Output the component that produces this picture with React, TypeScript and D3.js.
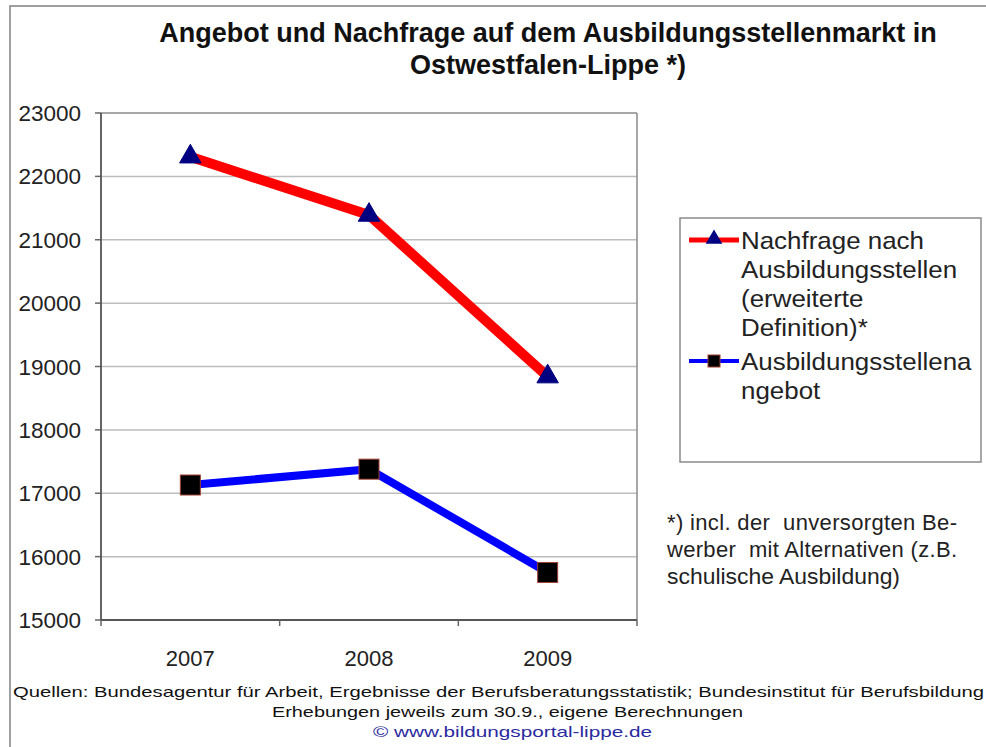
import React from "react";
import * as d3 from "d3";

const W = 986;
const H = 747;

const years = ["2007", "2008", "2009"];
const nachfrage = [22310, 21390, 18840];
const angebot = [17130, 17380, 15750];
const yTicks = [15000, 16000, 17000, 18000, 19000, 20000, 21000, 22000, 23000];

const titleLines = [
  "Angebot und Nachfrage auf dem Ausbildungsstellenmarkt in",
  "Ostwestfalen-Lippe *)",
];
const legendNachfrage = ["Nachfrage nach", "Ausbildungsstellen", "(erweiterte", "Definition)*"];
const legendAngebot = ["Ausbildungsstellena", "ngebot"];
const noteLines = [
  "*) incl. der  unversorgten Be-",
  "werber  mit Alternativen (z.B.",
  "schulische Ausbildung)",
];
const footerLines = [
  "Quellen: Bundesagentur für Arbeit, Ergebnisse der Berufsberatungsstatistik; Bundesinstitut für Berufsbildung",
  "Erhebungen jeweils zum 30.9., eigene Berechnungen",
  "© www.bildungsportal-lippe.de",
];

const FONT = "Liberation Sans, Arial, sans-serif";

const plot = { left: 101, right: 637, top: 113, bottom: 620 };

const App = () => {
  const x = d3
    .scaleBand<string>()
    .domain(years)
    .range([plot.left, plot.right]);
  const y = d3.scaleLinear().domain([15000, 23000]).range([plot.bottom, plot.top]);
  const cx = (i: number) => (x(years[i]) as number) + x.bandwidth() / 2;

  const line = d3
    .line<number>()
    .x((_, i) => cx(i))
    .y((d) => y(d));

  const tri = d3.symbol().type(d3.symbolTriangle).size(200)();
  const legendTri = d3.symbol().type(d3.symbolTriangle).size(120)();

  const bandEdges = years.map((yr) => x(yr) as number).concat([plot.right]);

  return (
    <svg width={W} height={H} style={{ position: "absolute", left: 0, top: 0 }}>
      <rect x={0} y={0} width={W} height={H} fill="#fff" />
      {/* outer frame */}
      <rect x={10} y={6} width={W + 20} height={H + 20} fill="none" stroke="#808080" strokeWidth={1.5} />

      {/* title */}
      {titleLines.map((t, i) => (
        <text
          key={t}
          x={548}
          y={42 + i * 32}
          textAnchor="middle"
          fontFamily={FONT}
          fontWeight="bold"
          fontSize={27}
          fill="#111"
        >
          {t}
        </text>
      ))}

      {/* grid */}
      {yTicks.map((t) => (
        <g key={t}>
          <line
            x1={plot.left}
            x2={plot.right}
            y1={y(t)}
            y2={y(t)}
            stroke={t === 23000 ? "#8a8a8a" : "#bdbdbd"}
            strokeWidth={1.5}
          />
          <line x1={plot.left - 6} x2={plot.left} y1={y(t)} y2={y(t)} stroke="#666" strokeWidth={1.5} />
          <text
            x={81}
            y={y(t)}
            dy="0.36em"
            textAnchor="end"
            fontFamily={FONT}
            fontSize={22.5}
            fill="#222"
          >
            {t}
          </text>
        </g>
      ))}
      <line x1={plot.right} x2={plot.right} y1={plot.top} y2={plot.bottom} stroke="#8a8a8a" strokeWidth={1.5} />
      <line x1={plot.left} x2={plot.left} y1={plot.top} y2={plot.bottom} stroke="#555" strokeWidth={1.8} />
      <line x1={plot.left} x2={plot.right} y1={plot.bottom} y2={plot.bottom} stroke="#555" strokeWidth={2} />
      {bandEdges.map((e, i) => (
        <line key={i} x1={e} x2={e} y1={plot.bottom} y2={plot.bottom + 6} stroke="#666" strokeWidth={1.5} />
      ))}
      {years.map((yr, i) => (
        <text
          key={yr}
          x={cx(i)}
          y={666}
          textAnchor="middle"
          fontFamily={FONT}
          fontSize={22}
          fill="#222"
        >
          {yr}
        </text>
      ))}

      {/* series */}
      <path d={line(nachfrage) || ""} fill="none" stroke="#ff0000" strokeWidth={10} strokeLinejoin="round" />
      <path d={line(angebot) || ""} fill="none" stroke="#0000ff" strokeWidth={8} strokeLinejoin="round" />
      {nachfrage.map((v, i) => (
        <path
          key={i}
          d={tri || ""}
          transform={`translate(${cx(i)},${y(v)})`}
          fill="#000080"
          stroke="#000080"
          strokeWidth={1}
        />
      ))}
      {angebot.map((v, i) => (
        <rect
          key={i}
          x={cx(i) - 10}
          y={y(v) - 10}
          width={20}
          height={20}
          fill="#000"
          stroke="#a04030"
          strokeWidth={1}
        />
      ))}

      {/* legend */}
      <rect x={680} y={218} width={301} height={244} fill="#fff" stroke="#8a8a8a" strokeWidth={1.5} />
      <line x1={689} x2={739} y1={240} y2={240} stroke="#ff0000" strokeWidth={5} />
      <path d={legendTri || ""} transform="translate(714,239)" fill="#000080" />
      <line x1={689} x2={739} y1={361} y2={361} stroke="#0000ff" strokeWidth={4} />
      <rect x={708} y={355} width={12} height={12} fill="#000" stroke="#a04030" strokeWidth={1} />
      <g transform="translate(741,0) scale(1.08,1)">
        {legendNachfrage.map((t, i) => (
          <text key={t} x={0} y={249 + i * 29} fontFamily={FONT} fontSize={24} fill="#222">
            {t}
          </text>
        ))}
        {legendAngebot.map((t, i) => (
          <text key={t} x={0} y={370 + i * 29} fontFamily={FONT} fontSize={24} fill="#222">
            {t}
          </text>
        ))}
      </g>

      {/* note */}
      {noteLines.map((t, i) => (
        <text
          key={t}
          x={667}
          y={530 + i * 27}
          textLength={i < 2 ? 290 : 233}
          lengthAdjust={i < 2 ? "spacing" : "spacingAndGlyphs"}
          fontFamily={FONT}
          fontSize={22}
          fill="#222"
          style={{ whiteSpace: "pre" }}
        >
          {t}
        </text>
      ))}

      {/* footer */}
      <text x={13} y={697} textLength={971} lengthAdjust="spacingAndGlyphs" fontFamily={FONT} fontSize={15} fill="#111">
        {footerLines[0]}
      </text>
      <text x={272} y={717} textLength={471} lengthAdjust="spacingAndGlyphs" fontFamily={FONT} fontSize={15} fill="#111">
        {footerLines[1]}
      </text>
      <text x={373} y={737} textLength={279} lengthAdjust="spacingAndGlyphs" fontFamily={FONT} fontSize={15} fill="#2a2aa0">
        {footerLines[2]}
      </text>
    </svg>
  );
};

export default App;
